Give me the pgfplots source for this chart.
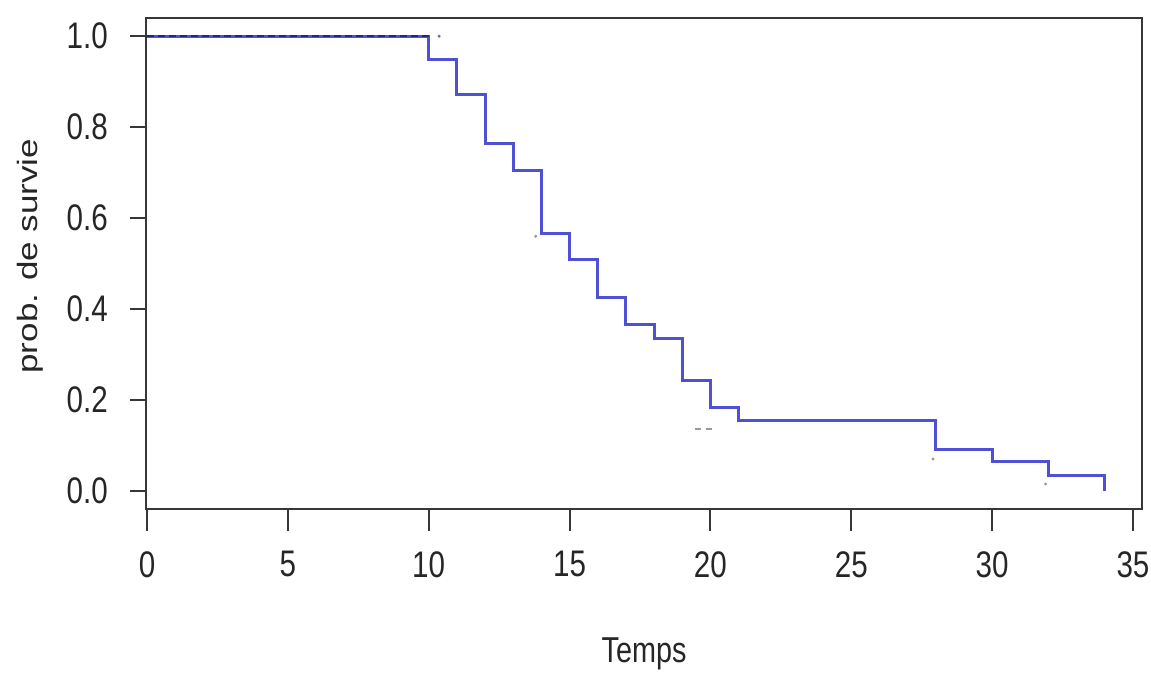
\documentclass[border=0pt]{standalone}
\usepackage{fontspec}
\setmainfont{Liberation Sans}[FakeStretch=0.8]
\newfontfamily\ylabfont{Liberation Sans}[FakeStretch=1.25]
\usepackage{pgfplots}
\pgfplotsset{compat=1.18}
\definecolor{kmblue}{RGB}{80,80,210}
\definecolor{cidark}{RGB}{35,35,140}
\definecolor{axgray}{RGB}{55,55,55}
\begin{document}
\begin{tikzpicture}
\useasboundingbox (-146bp,-166bp) rectangle (1005bp,509bp);
\begin{axis}[
  at={(0,0)}, anchor=south west,
  scale only axis, width=996bp, height=491bp,
  xmin=-0.035, xmax=35.32, ymin=-0.04, ymax=1.04,
  xtick={0,5,10,15,20,25,30,35},
  ytick={0,0.2,0.4,0.6,0.8,1},
  tick align=outside, tick pos=left,
  major tick length=16bp,
  xtick style={/pgfplots/major tick length=22bp},
  every tick/.style={axgray, line width=2bp},
  axis line style={axgray, line width=2.8bp},
  /pgf/number format/assume math mode=true,
  tick label style={font=\fontsize{37bp}{40bp}\selectfont, inner sep=0pt, text=black!85},
  yticklabel style={/pgf/number format/fixed, /pgf/number format/fixed zerofill, /pgf/number format/precision=1, anchor=east, xshift=-22bp},
  xticklabel style={anchor=north, yshift=-26bp},
  xlabel={Temps},
  ylabel={\ylabfont\fontsize{28bp}{32bp}\selectfont prob. de survie},
  xlabel style={at={(axis description cs:0.5,-0.3136)}, anchor=base, inner sep=0pt, font=\fontsize{36bp}{40bp}\selectfont, text=black!85},
  ylabel style={at={(axis description cs:-0.1165,0.515)}, anchor=center, inner sep=0pt, text=black!85},
]
\addplot[const plot, kmblue, line width=3bp] coordinates {
  (0,1) (10,0.948) (11,0.871) (12,0.763) (13,0.704) (14,0.566)
  (15,0.508) (16,0.426) (17,0.365) (18,0.334) (19,0.242) (20,0.183)
  (21,0.154) (28,0.090) (30,0.064) (32,0.033) (34,0.0)
};
\addplot[cidark, line width=2.5bp, dash pattern=on 7bp off 4bp] coordinates {(0,1) (10,1)};
\addplot[only marks, mark=*, mark size=1.3bp, cidark!70] coordinates {(10.37,1)};
\addplot[gray!80, line width=1.5bp, dash pattern=on 6bp off 5bp] coordinates {(19.45,0.136) (20.1,0.136)};
\addplot[only marks, mark=*, mark size=1.3bp, gray!80] coordinates {(13.8,0.56) (27.9,0.07) (31.9,0.015)};
\end{axis}
\end{tikzpicture}
\end{document}
